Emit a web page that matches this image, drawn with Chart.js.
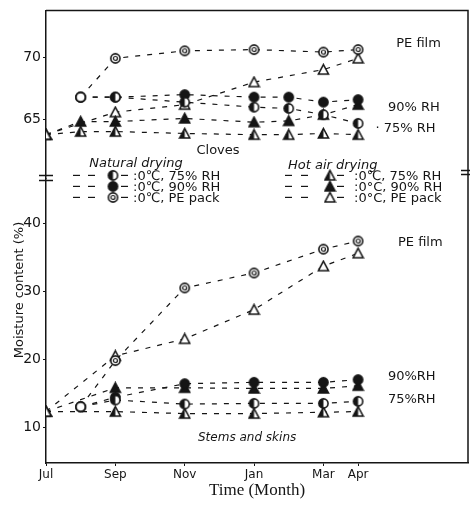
<!DOCTYPE html>
<html>
<head>
<meta charset="utf-8">
<script src="https://cdn.jsdelivr.net/npm/chart.js@4.4.1/dist/chart.umd.min.js"></script>
<style>
  html, body { margin: 0; padding: 0; background: #fff; }
</style>
</head>
<body>
<canvas id="myChart" width="470" height="506"></canvas>
<script>
// x axis: months counted from July
const tickMonths = [0, 2, 4, 6, 8, 9];
const tickNames = ['Jul', 'Sep', 'Nov', 'Jan', 'Mar', 'Apr'];
const upperTicks = [65, 70];
const lowerTicks = [10, 20, 30, 40];

// Cloves (upper panel)
const clNatMonths = [1, 2, 4, 6, 7, 8, 9];
const clNat75 = [66.8, 66.8, 66.4, 66.0, 65.9, 65.4, 64.7];
const clNat90 = [66.8, 66.8, 67.0, 66.8, 66.8, 66.4, 66.6];
const clNatPEMonths = [1, 2, 4, 6, 8, 9];
const clNatPE = [66.8, 69.9, 70.5, 70.6, 70.4, 70.6];
const clHotMonths = [0, 1, 2, 4, 6, 7, 8, 9];
const clHot75 = [63.8, 64.05, 64.05, 63.9, 63.8, 63.8, 63.9, 63.8];
const clHot90 = [63.8, 64.85, 64.85, 65.1, 64.8, 64.9, 65.4, 66.2];
const clHotPEMonths = [0, 2, 4, 6, 8, 9];
const clHotPE = [63.8, 65.6, 66.2, 68.0, 69.0, 69.9];

// Stems and skins (lower panel)
const stNatMonths = [1, 2, 4, 6, 8, 9];
const stNat75 = [13.0, 14.0, 13.4, 13.5, 13.5, 13.8];
const stNat90 = [13.0, 14.4, 16.4, 16.6, 16.6, 17.0];
const stNatPE = [13.0, 19.8, 30.5, 32.7, 36.2, 37.4];
const stHotMonths = [0, 2, 4, 6, 8, 9];
const stHot75 = [12.3, 12.3, 12.0, 12.0, 12.2, 12.3];
const stHot90 = [12.3, 15.8, 15.8, 15.7, 15.7, 16.1];
const stHotPE = [12.3, 20.5, 23.0, 27.3, 33.7, 35.6];

const ink = '#151515';

// marker pictures (chart.js has no half-filled styles)
function marker(kind) {
  const c = document.createElement('canvas');
  c.width = 13; c.height = 13;
  const g = c.getContext('2d');
  g.strokeStyle = ink; g.fillStyle = ink; g.lineWidth = 1.6;
  const m = 6.5, r = 4.6;
  if (kind.startsWith('c')) {
    g.beginPath(); g.arc(m, m, r, 0, Math.PI * 2);
    g.fillStyle = kind === 'cFull' ? ink : '#fff';
    g.fill(); g.stroke();
    if (kind === 'cHalf') {
      g.fillStyle = ink;
      g.beginPath(); g.arc(m, m, r, Math.PI / 2, Math.PI * 1.5); g.closePath(); g.fill();
    }
    if (kind === 'cPE') {
      g.lineWidth = 1.2;
      g.beginPath(); g.arc(m, m, 2, 0, Math.PI * 2); g.stroke();
    }
  } else {
    const top = 1.5, bot = 11, l = 1.5, rr = 11.5;
    const tri = () => { g.beginPath(); g.moveTo(m, top); g.lineTo(rr, bot); g.lineTo(l, bot); g.closePath(); };
    tri();
    g.fillStyle = kind === 'tFull' ? ink : '#fff';
    g.fill(); g.stroke();
    if (kind === 'tHalf') {
      g.fillStyle = ink;
      g.beginPath(); g.moveTo(m, top); g.lineTo(m, bot); g.lineTo(l, bot); g.closePath(); g.fill();
    }
    if (kind === 'tPE') {
      g.beginPath(); g.arc(m, 7.8, 1.2, 0, Math.PI * 2); g.fill();
    }
  }
  return c;
}

const mk = {
  cOpen: marker('cOpen'), cFull: marker('cFull'), cHalf: marker('cHalf'), cPE: marker('cPE'),
  tOpen: marker('tOpen'), tFull: marker('tFull'), tHalf: marker('tHalf'), tPE: marker('tPE')
};

function series(label, axis, months, values, style, startStyle) {
  return {
    label: label,
    yAxisID: axis,
    data: months.map((m, i) => ({ x: m, y: values[i] })),
    pointStyle: months.map((m, i) => i === 0 ? startStyle : style),
    borderColor: ink,
    borderWidth: 1.2,
    borderDash: [5, 7],
    pointRadius: 5,
    fill: false,
    tension: 0
  };
}

const data = {
  datasets: [
    series('Cloves natural 75% RH', 'yUp', clNatMonths, clNat75, mk.cHalf, mk.cOpen),
    series('Cloves natural 90% RH', 'yUp', clNatMonths, clNat90, mk.cFull, mk.cOpen),
    series('Cloves natural PE', 'yUp', clNatPEMonths, clNatPE, mk.cPE, mk.cOpen),
    series('Cloves hot air 75% RH', 'yUp', clHotMonths, clHot75, mk.tHalf, mk.tOpen),
    series('Cloves hot air 90% RH', 'yUp', clHotMonths, clHot90, mk.tFull, mk.tOpen),
    series('Cloves hot air PE', 'yUp', clHotPEMonths, clHotPE, mk.tOpen, mk.tOpen),
    series('Stems natural 75% RH', 'yLow', stNatMonths, stNat75, mk.cHalf, mk.cOpen),
    series('Stems natural 90% RH', 'yLow', stNatMonths, stNat90, mk.cFull, mk.cOpen),
    series('Stems natural PE', 'yLow', stNatMonths, stNatPE, mk.cPE, mk.cOpen),
    series('Stems hot air 75% RH', 'yLow', stHotMonths, stHot75, mk.tHalf, mk.tOpen),
    series('Stems hot air 90% RH', 'yLow', stHotMonths, stHot90, mk.tFull, mk.tOpen),
    series('Stems hot air PE', 'yLow', stHotMonths, stHotPE, mk.tOpen, mk.tOpen)
  ]
};

const sans = '"DejaVu Sans", sans-serif';

function yAxis(min, max, ticks, weight) {
  return {
    type: 'linear',
    position: 'left',
    stack: 'moisture',
    stackWeight: weight,
    min: min,
    max: max,
    afterBuildTicks: s => { s.ticks = ticks.map(v => ({ value: v })); },
    afterFit: s => { s.width = 46; },
    grid: { drawOnChartArea: false, tickLength: 3, color: ink },
    border: { color: ink, width: 1.5 },
    ticks: { color: ink, font: { family: sans, size: 14 }, padding: 2 }
  };
}

// annotations placed in data units of each panel
const notes = [
  { text: 'PE film', axis: 'yUp', x: 10.1, y: 71.1 },
  { text: '90% RH', axis: 'yUp', x: 9.86, y: 66.0 },
  { text: '· 75% RH', axis: 'yUp', x: 9.5, y: 64.3 },
  { text: 'PE film', axis: 'yLow', x: 10.15, y: 37.1 },
  { text: '90%RH', axis: 'yLow', x: 9.86, y: 17.5 },
  { text: '75%RH', axis: 'yLow', x: 9.86, y: 14.1 }
];

const frame = {
  id: 'frame',
  afterDraw(chart) {
    const c = chart.ctx, a = chart.chartArea;
    const up = chart.scales.yUp, xs = chart.scales.x;
    c.save();
    c.strokeStyle = ink; c.lineWidth = 1.5;
    c.beginPath();
    c.moveTo(a.left, a.top); c.lineTo(a.right, a.top); c.lineTo(a.right, a.bottom);
    c.stroke();
    // axis break marks
    const b = up.bottom;
    c.lineWidth = 1.3;
    c.beginPath();
    c.moveTo(a.left - 7, b - 3); c.lineTo(a.left + 7, b - 3);
    c.moveTo(a.left - 7, b + 2); c.lineTo(a.left + 7, b + 2);
    c.moveTo(a.right - 7, b - 8); c.lineTo(a.right + 2, b - 8);
    c.moveTo(a.right - 7, b - 4); c.lineTo(a.right + 2, b - 4);
    c.stroke();

    c.fillStyle = ink;
    c.textBaseline = 'middle';
    c.font = '13px ' + sans;
    notes.forEach(n => {
      c.textAlign = 'left';
      c.fillText(n.text, xs.getPixelForValue(n.x), chart.scales[n.axis].getPixelForValue(n.y));
    });
    c.textAlign = 'center';
    c.fillText('Cloves', xs.getPixelForValue(4.96), up.getPixelForValue(62.5));
    c.font = 'italic 12px ' + sans;
    c.fillText('Stems and skins', xs.getPixelForValue(5.8), chart.scales.yLow.getPixelForValue(8.5));

    // y title spanning both panels
    c.save();
    c.translate(20, 290);
    c.rotate(-Math.PI / 2);
    c.font = '13px ' + sans;
    c.fillText('Moisture content (%)', 0, 0);
    c.restore();

    // legend boxes
    const L = a.left, T = a.top;
    const dash = (x1, x2, y) => { c.beginPath(); c.moveTo(L + x1, T + y); c.lineTo(L + x2, T + y); c.stroke(); };
    const stamp = (img, x, y) => c.drawImage(img, L + x - img.width / 2, T + y - img.height / 2);
    c.lineWidth = 1.2;
    c.font = 'italic 13px ' + sans;
    c.textAlign = 'center';
    c.fillText('Natural drying', L + 90, T + 153);
    c.textAlign = 'left';
    c.fillText('Hot air drying', L + 242, T + 155);
    c.font = '13px ' + sans;
    const natRows = [[mk.cHalf, ':0℃, 75% RH'], [mk.cFull, ':0℃, 90% RH'], [mk.cPE, ':0℃, PE pack']];
    natRows.forEach((r, i) => {
      const y = 165 + i * 11;
      dash(27, 34, y); dash(42, 49, y); dash(75, 82, y);
      stamp(r[0], 67, y);
      c.fillText(r[1], L + 87, T + y + 1);
    });
    const hotRows = [[mk.tHalf, ':0℃, 75% RH'], [mk.tFull, ':0°C, 90% RH'], [mk.tPE, ':0°C, PE pack']];
    hotRows.forEach((r, i) => {
      const y = 165 + i * 11;
      dash(239, 246, y); dash(255, 262, y); dash(291, 298, y);
      stamp(r[0], 284, y);
      c.fillText(r[1], L + 308, T + y + 1);
    });
    c.restore();
  }
};

const config = {
  type: 'line',
  data: data,
  options: {
    responsive: false,
    animation: false,
    layout: { autoPadding: false, padding: { top: 8, right: 2, left: 0, bottom: 0 } },
    plugins: { legend: { display: false }, tooltip: { enabled: false } },
    scales: {
      x: {
        type: 'linear',
        min: 0,
        max: 12.17,
        afterBuildTicks: s => { s.ticks = tickMonths.map(v => ({ value: v })); },
        afterFit: s => { s.height = 43; s.paddingLeft = 0; s.paddingRight = 0; },
        grid: { drawOnChartArea: false, tickLength: 3, color: ink },
        border: { color: ink, width: 1.5 },
        ticks: {
          color: ink,
          maxRotation: 0,
          font: { family: sans, size: 12 },
          padding: 2,
          callback: v => tickNames[tickMonths.indexOf(v)]
        },
        title: {
          display: true,
          text: 'Time (Month)',
          color: ink,
          font: { family: '"Liberation Serif", serif', size: 17 },
          padding: { top: 0, bottom: 5 }
        }
      },
      yLow: yAxis(4.73, 46.6, lowerTicks, 286),
      yUp: yAxis(60.3, 73.73, upperTicks, 169)
    }
  },
  plugins: [frame]
};

const myChart = new Chart(document.getElementById('myChart').getContext('2d'), config);
</script>
</body>
</html>
